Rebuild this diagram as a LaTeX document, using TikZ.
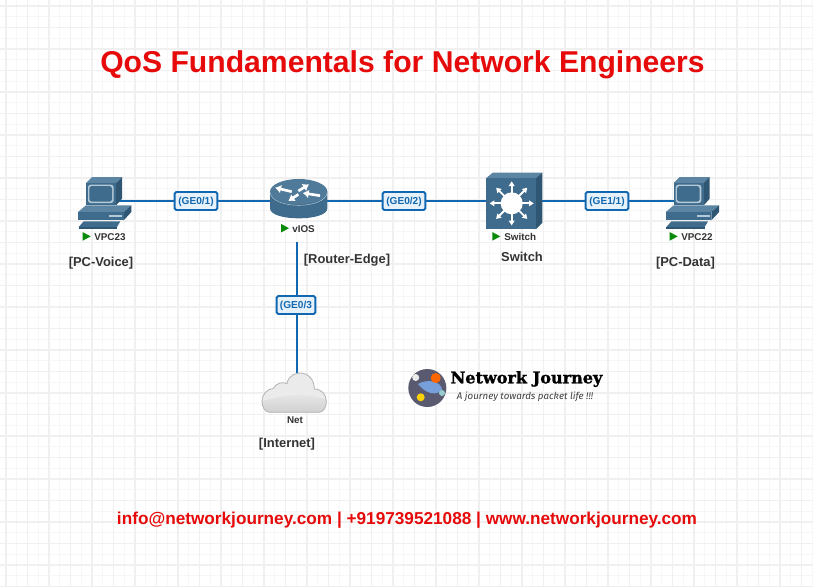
\documentclass[tikz,border=0pt]{standalone}
\usepackage{fontspec}
\usetikzlibrary{arrows.meta}
\setmainfont{Liberation Sans}
\newfontfamily\logofont[BoldFeatures={FakeBold=1.4}]{DejaVu Serif}
\newfontfamily\tagfont{Fira Sans}
\definecolor{qred}{HTML}{E60A0A}
\definecolor{linkblue}{HTML}{1268B0}
\definecolor{linkfill}{HTML}{E6F1FA}
\definecolor{icon}{HTML}{3F6B8C}
\definecolor{icondark}{HTML}{2F5673}
\definecolor{iconlight}{HTML}{6F97B2}
\definecolor{iconframe}{HTML}{B4CAD8}
\definecolor{labelgray}{HTML}{333333}
\definecolor{playgreen}{HTML}{0A8A0A}
\tikzset{
  px/.style={x=0.75pt,y=-0.75pt},
  zm/.style={x=0.25pt,y=-0.25pt},
  gridminor/.style={draw=black!3,line width=0.7pt},
  gridmajor/.style={draw=black!6,line width=0.8pt},
  link/.style={draw=linkblue,line width=1.8pt},
  portbox/.style={draw=linkblue,fill=linkfill,line width=1.4pt,rounded corners=1.2pt,minimum height=13.5pt,inner sep=0pt,text=linkblue,text height=5.6pt,text depth=0pt,font=\bfseries\fontsize{7.6}{9}\selectfont},
  devicelabel/.style={text=labelgray,font=\bfseries\fontsize{7.4}{8}\selectfont,inner sep=0pt,anchor=west},
  rolelabel/.style={text=labelgray,font=\bfseries\fontsize{9.7}{12}\selectfont,inner sep=0pt},
  iconnode/.style={inner sep=0pt,minimum height=30pt},
  routerarrow/.style={white,line width=2pt,-{Latex[length=4.5pt,width=6.5pt]}},
  pics/playmark/.style={code={\fill[playgreen,px] (0,-4.3) -- (8,0) -- (0,4.3) -- cycle;}},
  pics/pcicon/.style={code={
    \begin{scope}[zm]
      \fill[iconlight!60!icon] (-57,-54) -- (-39,-72) -- (51,-72) -- (33,-54) -- cycle;
      \fill[icondark] (33,-54) -- (51,-72) -- (51,-7) -- (33,13) -- cycle;
      \fill[icon] (-57,-54) rectangle (33,13);
      \fill[iconframe,rounded corners=2pt] (-51,-49) rectangle (26,6);
      \fill[icon,rounded corners=2pt] (-47,-45) rectangle (21,2);
      \fill[iconlight!60!icon] (-81,33) -- (-57,13) -- (79,13) -- (56,33) -- cycle;
      \fill[icondark] (56,33) -- (79,13) -- (79,33) -- (56,58) -- cycle;
      \fill[icon] (-81,33) rectangle (56,58);
      \fill[iconframe] (13,41) rectangle (51,48);
      \fill[icon] (-79,78) -- (-64,61) -- (46,61) -- (36,78) -- cycle;
      \fill[icondark] (-79,78) rectangle (36,85);
    \end{scope}}},
  pics/routericon/.style={code={
    \begin{scope}[zm]
      \fill[icon] (-86,-28) -- (-86,22) .. controls (-86,62) and (86,62) .. (86,22) -- (86,-28) -- cycle;
      \fill[iconlight!35!icon] (0,-28) ellipse[x radius=86,y radius=38];
      \draw[iconframe,line width=0.35pt] (-86,-26) .. controls (-80,26) and (80,26) .. (86,-26);
      \draw[routerarrow] (-21,-28) -- (-71,-40);
      \draw[routerarrow] (-1,-30) -- (31,-50);
      \draw[routerarrow] (-1,-20) -- (-31,0);
      \draw[routerarrow] (64,-16) -- (12,-24);
    \end{scope}}},
  pics/switchicon/.style={code={
    \begin{scope}[zm]
      \fill[iconlight!60!icon] (-77,-71) -- (-57,-88) -- (92,-88) -- (72,-71) -- cycle;
      \fill[icondark] (72,-71) -- (92,-88) -- (92,62) -- (72,82) -- cycle;
      \fill[icon] (-77,-71) rectangle (72,82);
      \fill[white] (0,4) circle[radius=33];
      \foreach \a in {0,45,...,315}{
        \begin{scope}[shift={(0,4)},rotate=\a]
          \draw[white,line width=1.4pt] (30,0) -- (54,0);
          \fill[white] (66,0) -- (52,9) -- (52,-9) -- cycle;
        \end{scope}}
    \end{scope}}},
  pics/cloudicon/.style={code={
    \begin{scope}[zm]
      \path[draw=black!30,line width=0.6pt,fill=black!8,
        path picture={\shade[top color=white,bottom color=black!20]
          (-110,28) .. controls (-40,6) and (30,-4) .. (100,22) -- (100,70) -- (-110,70) -- cycle;}]
        (-71,58) .. controls (-92,58) and (-99,42) .. (-99,25)
        .. controls (-99,5) and (-85,-12) .. (-65,-14)
        .. controls (-55,-32) and (-35,-34) .. (-24,-28)
        .. controls (-20,-55) and (5,-60) .. (15,-60)
        .. controls (40,-60) and (58,-40) .. (58,-12)
        .. controls (80,-12) and (94,5) .. (94,25)
        .. controls (94,42) and (85,58) .. (72,58) -- cycle;
    \end{scope}}}
}
\begin{document}
\begin{tikzpicture}[px]
\useasboundingbox (0,0) rectangle (813,586);
\fill[white] (0,0) rectangle (813,586);
% background grid
\foreach \k in {0,...,75}{
  \pgfmathsetmacro{\g}{6+10.75*\k}
  \draw[gridminor] (\g,0) -- (\g,586);
  \draw[gridminor] (0,\g) -- (813,\g);
}
\foreach \k in {0,...,37}{
  \pgfmathsetmacro{\g}{6+21.5*\k}
  \draw[gridmajor] (\g,0) -- (\g,586);
  \draw[gridmajor] (0,\g) -- (813,\g);
}
% title and footer
\node[text=qred,font=\bfseries\fontsize{22.6}{26}\selectfont,inner sep=0pt] (title) at (402.5,65) {QoS Fundamentals for Network Engineers};
\node[text=qred,font=\bfseries\fontsize{12.9}{15}\selectfont,inner sep=0pt] (footer) at (407,520) {info@networkjourney.com | +919739521088 | www.networkjourney.com};
% device anchors
\node[iconnode,minimum width=30pt] (pcvoice) at (105,201) {};
\node[iconnode,minimum width=30pt] (router) at (298.7,201) {};
\node[iconnode,minimum width=42pt] (switch) at (514,201) {};
\node[iconnode,minimum width=30pt] (pcdata) at (692.7,201) {};
\node[inner sep=0pt,minimum width=48pt,minimum height=30pt] (cloud) at (296.7,393) {};
\coordinate (routertail) at (296.7,241.5);
% port labels
\node[portbox,minimum width=32pt] (ge01) at (196,201) {(GE0/1)};
\node[portbox,minimum width=32pt] (ge02) at (404,201) {(GE0/2)};
\node[portbox,minimum width=32pt] (ge11) at (607,201) {(GE1/1)};
\node[portbox,minimum width=29pt] (ge03) at (296,305) {(GE0/3};
% connectors
\draw[link] (pcvoice.center) -- (ge01.west);
\draw[link] (ge01.east) -- (router.center);
\draw[link] (router.center) -- (ge02.west);
\draw[link] (ge02.east) -- (switch.center);
\draw[link] (switch.center) -- (ge11.west);
\draw[link] (ge11.east) -- (pcdata.center);
\draw[link] (routertail) -- (ge03.north -| routertail);
\draw[link] (ge03.south -| routertail) -- (cloud.north);
% icons
\pic at (pcvoice.center) {pcicon};
\pic at (router.center) {routericon};
\pic at (511.7,202) {switchicon};
\pic at (pcdata.center) {pcicon};
\pic at (295,393) {cloudicon};
% device labels
\pic at (82.7,236.4) {playmark};
\node[devicelabel] (vpc23) at (94,237) {VPC23};
\pic at (281,228.2) {playmark};
\node[devicelabel] (vios) at (292,228.7) {vIOS};
\pic at (492.3,236.4) {playmark};
\node[devicelabel] (swname) at (504,237) {Switch};
\pic at (669.7,236.4) {playmark};
\node[devicelabel] (vpc22) at (681,237) {VPC22};
\node[devicelabel,anchor=center] (net) at (295,420) {Net};
% role labels
\node[rolelabel] (rolevoice) at (101,263) {[PC-Voice]};
\node[rolelabel] (roleedge) at (347,260) {[Router-Edge]};
\node[rolelabel] (roleswitch) at (522,257) {Switch};
\node[rolelabel] (roledata) at (685.5,263) {[PC-Data]};
\node[rolelabel] (roleinet) at (287,444) {[Internet]};
% logo
\fill[fill=black!70!blue!30!gray] (427.3,388) circle[radius=19];
\begin{scope}
  \clip (427.3,388) circle[radius=19];
  \fill[cyan!50!blue!55!white] (418,384) .. controls (428,378) and (442,382) .. (442,390) .. controls (436,396) and (426,394) .. (418,384) -- cycle;
  \fill[white!85!gray] (415.7,377.5) circle[radius=3.5];
  \fill[orange!80!red] (435.7,378) circle[radius=5];
  \fill[yellow!70!orange] (420.7,397.3) circle[radius=4];
  \fill[white!60!teal] (442,393) circle[radius=3];
\end{scope}
\node[inner sep=0pt,font=\logofont\bfseries\fontsize{12.05}{15}\selectfont] (logotext) at (526.5,379) {Network Journey};
\node[inner sep=0pt,text=black!75,font=\tagfont\itshape\fontsize{7.3}{9}\selectfont] (logotag) at (525,396.5) {A journey towards packet life !!!};
\end{tikzpicture}
\end{document}
